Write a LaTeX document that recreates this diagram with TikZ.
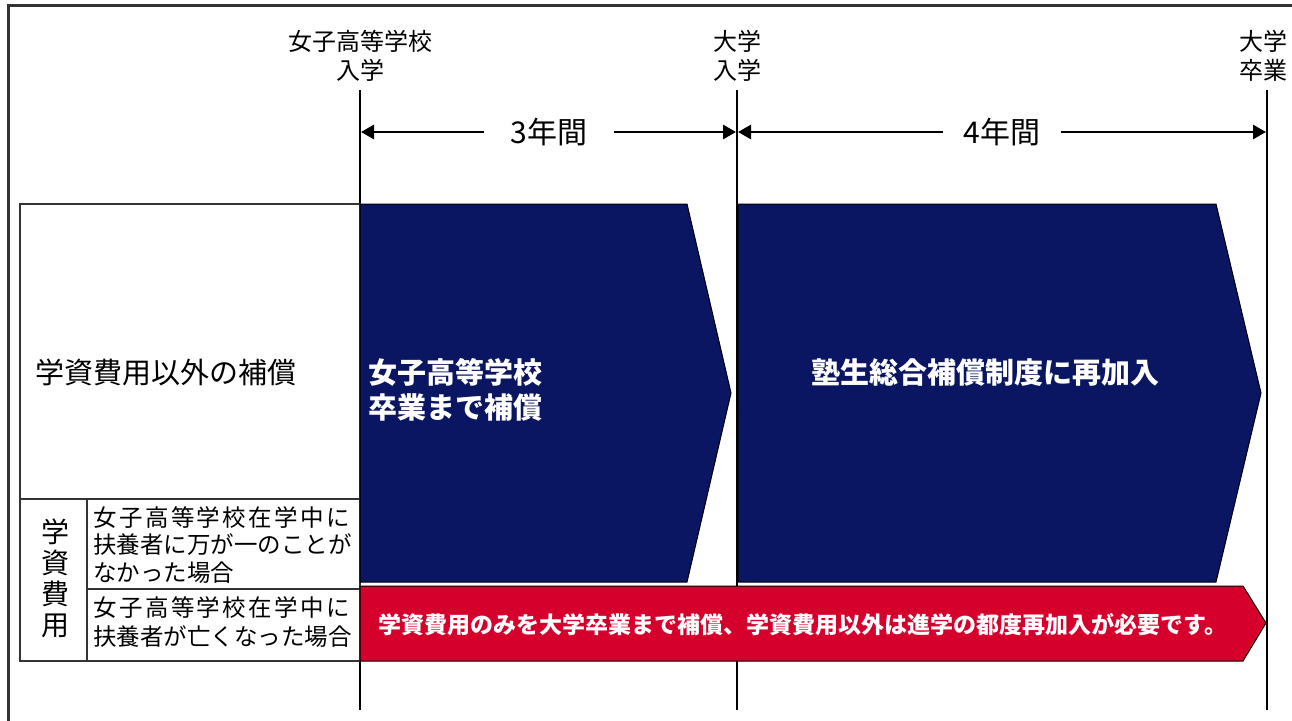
\documentclass[tikz,border=0pt]{standalone}
\usepackage{fontspec}
\newfontfamily\jp{Noto Sans CJK JP}
\usetikzlibrary{arrows.meta,positioning}
\definecolor{navy}{HTML}{0B1662}
\definecolor{crimson}{HTML}{D5002B}
\newcommand{\fs}[2]{\jp\fontsize{#1}{#2}\selectfont}
\newcommand{\spreadline}{\makebox[257pt][s]{女\hfill{}子\hfill{}高\hfill{}等\hfill{}学\hfill{}校\hfill{}在\hfill{}学\hfill{}中\hfill{}に}}

\begin{document}
\begin{tikzpicture}[x=1pt,y=-1pt]
\tikzstyle{every node}=[inner sep=0pt]
\tikzstyle{timeline}=[line width=2.5pt, black]
\tikzstyle{span}=[line width=2.8pt, -{Triangle[length=13pt,width=14pt]}]
\tikzstyle{cell}=[line width=1.3pt, black!80]
\tikzstyle{band}=[draw=black, line width=1pt]
\tikzstyle{toplabel}=[font=\fs{24}{29}, align=center]

% page size
\useasboundingbox (0,0) rectangle (1292,720);

% frame
\draw [line width=3pt, black!80] (8,730) -- (8,5) -- (1300,5);

% time lines
\foreach \x/\name in {360/hs, 737/ui, 1267/ug}
	\draw [timeline] (\x,90) coordinate (\name-top) -- (\x,710) coordinate (\name-bot);

% labels above the time lines
\node [toplabel] (hslabel) at (360,56) {女子高等学校\\入学};
\node [toplabel] (uilabel) at (737,56) {大学\\入学};
\node [toplabel] (uglabel) at (1263,56) {大学\\卒業};

% years
\node [font=\fs{30}{36}, inner xsep=26pt] (y3) at (549,132) {3年間};
\node [font=\fs{30}{36}, inner xsep=20pt] (y4) at (1002,132) {4年間};
\draw [span] (y3.west) -- ([xshift=1pt]hs-top |- y3);
\draw [span] (y3.east) -- ([xshift=-1pt]ui-top |- y3);
\draw [span] (y4.west) -- ([xshift=1pt]ui-top |- y4);
\draw [span] (y4.east) -- ([xshift=-1pt]ug-top |- y4);

% table on the left
\draw [cell] (20,204) rectangle (360,661);
\draw [cell] (20,499) -- (360,499);
\draw [cell] (87,589) -- (360,589);
\draw [cell] (87,499) -- (87,661);
\node [anchor=west, font=\fs{29}{34}] (other) at (35,372) {学資費用以外の補償};
\node [align=center, font=\fs{28}{31}] (fee) at (55,578) {学\\資\\費\\用};
\node [anchor=west, align=left, font=\fs{23.5}{27.5}] (case1) at (93,545) {\spreadline\\扶養者に万が一のことが\\なかった場合};
\node [anchor=west, align=left, font=\fs{23.5}{29}] (case2) at (93,622) {\spreadline\\扶養者が亡くなった場合};

% bands
\draw [band, fill=navy] (360,204) -- (687,204) -- (731,393) -- (687,582) -- (360,582) -- cycle;
\draw [band, fill=navy] (738,204) -- (1216,204) -- (1261,393) -- (1216,582) -- (738,582) -- cycle;
\draw [band, fill=crimson] (360,586) -- (1243,586) -- (1266,623) -- (1243,661) -- (360,661) -- cycle;

\node [anchor=west, align=left, white, font=\fs{29}{35}\bfseries] (hsband) at (368,390) {女子高等学校\\卒業まで補償};
\node [white, font=\fs{29}{35}\bfseries] (reband) at (985,373) {塾生総合補償制度に再加入};
\node [white, font=\fs{23}{28}\bfseries] (feeband) at (803,625) {学資費用のみを大学卒業まで補償、学資費用以外は進学の都度再加入が必要です。};

\end{tikzpicture}
\end{document}
